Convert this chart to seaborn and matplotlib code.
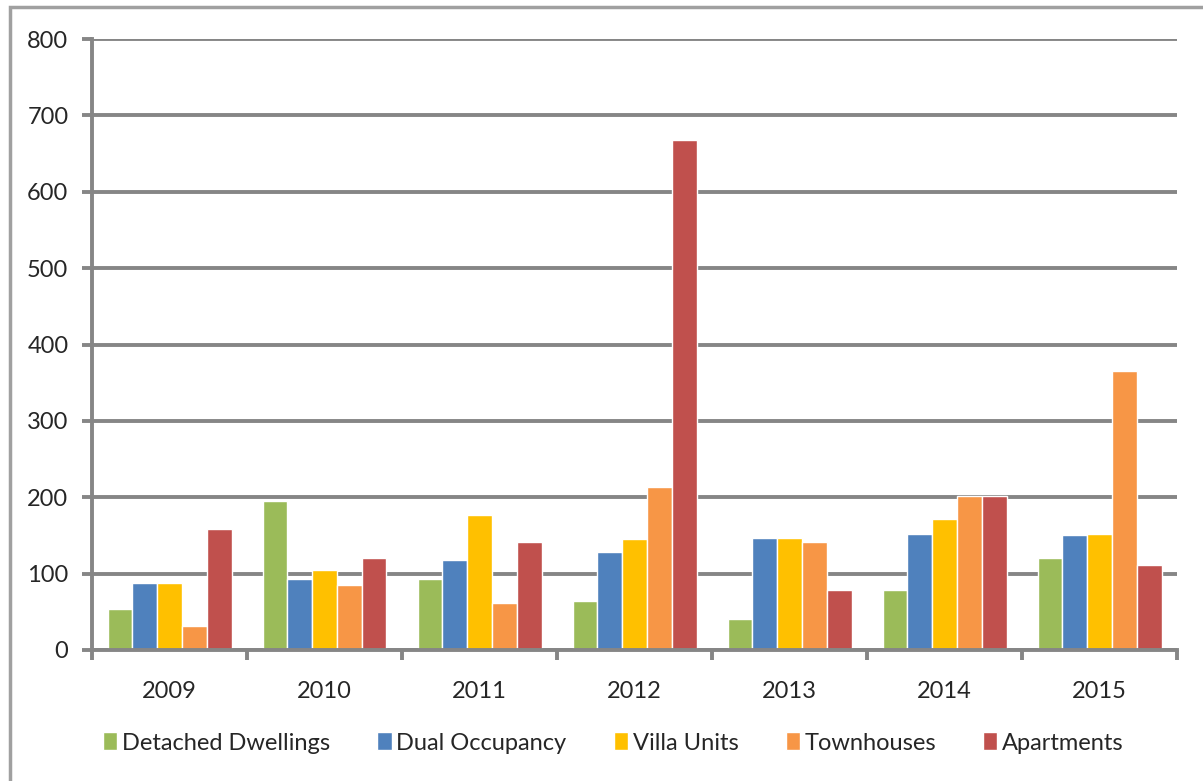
import pandas as pd
import matplotlib.pyplot as plt
import seaborn as sns
from matplotlib.patches import Rectangle

years = ['2009', '2010', '2011', '2012', '2013', '2014', '2015']
detached = [54, 195, 93, 64, 41, 79, 120]
dual = [88, 93, 118, 128, 146, 152, 150]
villa = [88, 105, 177, 145, 146, 171, 152]
townhouses = [31, 85, 61, 214, 141, 201, 365]
apartments = [158, 120, 141, 668, 78, 201, 111]

series_names = ['Detached Dwellings', 'Dual Occupancy', 'Villa Units', 'Townhouses', 'Apartments']
colors = ['#9BBB59', '#4F81BD', '#FFC000', '#F79646', '#C0504D']

df = pd.DataFrame({'Year': years,
                   'Detached Dwellings': detached,
                   'Dual Occupancy': dual,
                   'Villa Units': villa,
                   'Townhouses': townhouses,
                   'Apartments': apartments})
long_df = df.melt(id_vars='Year', var_name='Type', value_name='Count')

sns.set_style('white')
plt.rcParams['font.family'] = ['Lato', 'DejaVu Sans']

grey = '#868686'
fig = plt.figure(figsize=(12.03, 7.81), dpi=100)
ax = fig.add_axes([92 / 1203, 1 - 650 / 781, (1177 - 92) / 1203, (650 - 39) / 781])

sns.barplot(data=long_df, x='Year', y='Count', hue='Type', hue_order=series_names,
            palette=colors, width=0.8, saturation=1, ax=ax, legend=True)

ax.set_ylim(0, 800)
ax.set_xlim(-0.5, 6.5)
ax.set_yticks(range(0, 801, 100))
ax.set_xlabel('')
ax.set_ylabel('')
ax.yaxis.grid(True, color=grey, linewidth=2.8)
ax.set_axisbelow(True)

for side in ['top', 'right']:
    ax.spines[side].set_visible(False)
for side in ['left', 'bottom']:
    ax.spines[side].set_color(grey)
    ax.spines[side].set_linewidth(2.8)

ax.tick_params(axis='y', length=7, width=2.8, color=grey, labelsize=17, pad=10, left=True)
ax.tick_params(axis='x', which='major', length=0, labelsize=17, pad=22)
ax.set_xticks([i - 0.5 for i in range(8)], minor=True)
ax.tick_params(axis='x', which='minor', length=7, width=2.8, color=grey, bottom=True)

handles, labels = ax.get_legend_handles_labels()
ax.legend(handles, labels, loc='center', bbox_to_anchor=(0.51, 1 - 743 / 781), bbox_transform=fig.transFigure,
          ncol=5, frameon=False, fontsize=17, handlelength=0.6, handleheight=0.8,
          handletextpad=0.2, columnspacing=2.0)

fig.patches.append(Rectangle((10 / 1203, -0.1), 1.2, 1 - 7 / 781 + 0.1, transform=fig.transFigure,
                             fill=False, edgecolor='#A0A0A0', linewidth=2.5))

fig.savefig('out.png', dpi=100)
